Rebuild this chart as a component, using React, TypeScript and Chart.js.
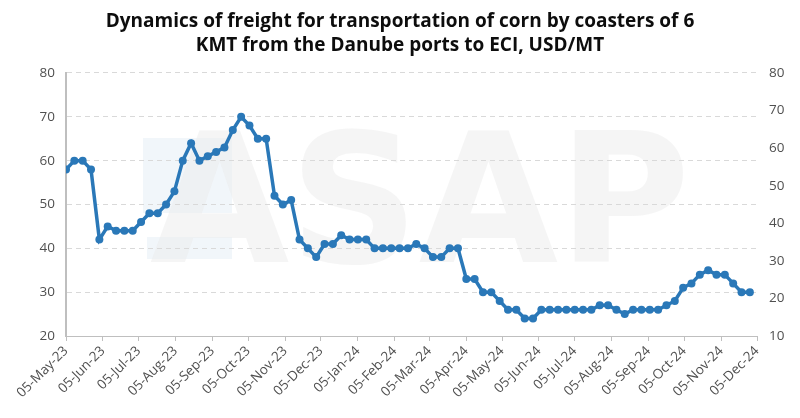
import React, { useEffect, useRef } from "react";
import { Chart, registerables } from "chart.js";

Chart.register(...registerables);

const TITLE = [
  "Dynamics of freight for transportation of corn by coasters of 6",
  "KMT from the Danube ports to ECI, USD/MT",
];

const weekDates = [
  "2023-05-05", "2023-05-12", "2023-05-19", "2023-05-26",
  "2023-06-02", "2023-06-09", "2023-06-16", "2023-06-23", "2023-06-30",
  "2023-07-07", "2023-07-14", "2023-07-21", "2023-07-28",
  "2023-08-04", "2023-08-11", "2023-08-18", "2023-08-25",
  "2023-09-01", "2023-09-08", "2023-09-15", "2023-09-22", "2023-09-29",
  "2023-10-06", "2023-10-13", "2023-10-20", "2023-10-27",
  "2023-11-03", "2023-11-10", "2023-11-17", "2023-11-24",
  "2023-12-01", "2023-12-08", "2023-12-15", "2023-12-22", "2023-12-29",
  "2024-01-05", "2024-01-12", "2024-01-19", "2024-01-26",
  "2024-02-02", "2024-02-09", "2024-02-16", "2024-02-23",
  "2024-03-01", "2024-03-08", "2024-03-15", "2024-03-22", "2024-03-29",
  "2024-04-05", "2024-04-12", "2024-04-19", "2024-04-26",
  "2024-05-03", "2024-05-10", "2024-05-17", "2024-05-24", "2024-05-31",
  "2024-06-07", "2024-06-14", "2024-06-21", "2024-06-28",
  "2024-07-05", "2024-07-12", "2024-07-19", "2024-07-26",
  "2024-08-02", "2024-08-09", "2024-08-16", "2024-08-23", "2024-08-30",
  "2024-09-06", "2024-09-13", "2024-09-20", "2024-09-27",
  "2024-10-04", "2024-10-11", "2024-10-18", "2024-10-25",
  "2024-11-01", "2024-11-08", "2024-11-15", "2024-11-22", "2024-11-29",
];

const freight = [
  58, 60, 60, 58, 42, 45, 44, 44, 44, 46, 48, 48, 50, 53, 60, 64, 60, 61, 62, 63, 67, 70, 68, 65, 65,
  52, 50, 51, 42, 40, 38, 41, 41, 43, 42, 42, 42, 40, 40, 40, 40, 40, 41, 40, 38, 38, 40, 40,
  33, 33, 30, 30, 28, 26, 26, 24,
  24, 26, 26, 26, 26, 26, 26, 26, 27, 27, 26, 25, 26, 26, 26, 26, 27, 28, 31, 32, 34, 35, 34, 34, 32, 30, 30,
];

const tickDates = [
  "2023-05-05", "2023-06-05", "2023-07-05", "2023-08-05", "2023-09-05", "2023-10-05",
  "2023-11-05", "2023-12-05", "2024-01-05", "2024-02-05", "2024-03-05", "2024-04-05",
  "2024-05-05", "2024-06-05", "2024-07-05", "2024-08-05", "2024-09-05", "2024-10-05",
  "2024-11-05", "2024-12-05",
];

const tickLabels = [
  "05-May-23", "05-Jun-23", "05-Jul-23", "05-Aug-23", "05-Sep-23", "05-Oct-23",
  "05-Nov-23", "05-Dec-23", "05-Jan-24", "05-Feb-24", "05-Mar-24", "05-Apr-24",
  "05-May-24", "05-Jun-24", "05-Jul-24", "05-Aug-24", "05-Sep-24", "05-Oct-24",
  "05-Nov-24", "05-Dec-24",
];

const leftAxis = { min: 20, max: 80, step: 10 };
const rightAxis = { min: 10, max: 80, step: 10 };

const BASE = Date.UTC(2023, 4, 5);
function dayOf(s: string): number {
  const [y, m, d] = s.split("-").map(Number);
  return (Date.UTC(y, m - 1, d) - BASE) / 86400000;
}

const LINE_COLOR = "#2A78B8";
const TEXT_COLOR = "#505050";
const FONT = "'Open Sans', 'DejaVu Sans', sans-serif";

const watermark = {
  id: "watermark",
  beforeDraw(chart: any) {
    const { ctx, chartArea } = chart;
    if (!chartArea) return;
    ctx.save();
    ctx.fillStyle = "rgba(225,235,243,0.45)";
    ctx.fillRect(143, 138, 89, 75);
    ctx.fillRect(147, 237, 85, 22);
    ctx.font = "bold 180px 'DejaVu Sans', sans-serif";
    ctx.fillStyle = "rgba(236,236,236,0.5)";
    ctx.textBaseline = "alphabetic";
    ctx.textAlign = "center";
    ctx.fillText("ASAP", 420, 262);
    ctx.restore();
  },
};

export default function App() {
  const ref = useRef<HTMLCanvasElement | null>(null);

  useEffect(() => {
    if (!ref.current) return;
    const points = weekDates.map((d, i) => ({ x: dayOf(d), y: freight[i] }));
    const tickValues = tickDates.map(dayOf);
    const chart = new Chart(ref.current, {
      type: "line",
      data: {
        datasets: [
          {
            label: "Freight",
            data: points,
            borderColor: LINE_COLOR,
            backgroundColor: LINE_COLOR,
            borderWidth: 3.5,
            pointRadius: 4,
            pointBorderWidth: 0,
            pointBackgroundColor: LINE_COLOR,
            tension: 0,
            yAxisID: "y",
          },
        ],
      },
      plugins: [watermark],
      options: {
        responsive: false,
        animation: false,
        layout: { padding: { left: 0, right: 0, top: 0, bottom: 0 } },
        plugins: {
          legend: { display: false },
          tooltip: { enabled: false },
          title: {
            display: true,
            text: TITLE,
            color: "#0d0d0d",
            font: { family: FONT, size: 19, weight: "bold", lineHeight: 1.263 },
            padding: { top: 10, bottom: 15 },
          },
        },
        scales: {
          x: {
            type: "linear",
            min: tickValues[0],
            max: tickValues[tickValues.length - 1],
            afterBuildTicks: (scale: any) => {
              scale.ticks = tickValues.map((v) => ({ value: v }));
            },
            afterFit: (scale: any) => {
              scale.height = 82;
            },
            ticks: {
              autoSkip: false,
              maxRotation: 45,
              minRotation: 45,
              color: TEXT_COLOR,
              font: { family: FONT, size: 13.5 },
              padding: 2,
              callback: (value: any) => {
                const idx = tickValues.indexOf(Number(value));
                return idx >= 0 ? tickLabels[idx] : "";
              },
            },
            grid: {
              display: true,
              drawOnChartArea: false,
              drawTicks: true,
              tickLength: 5,
              color: "#bfbfbf",
              lineWidth: 1,
            },
            border: { display: true, color: "#bfbfbf", width: 1 },
          },
          y: {
            type: "linear",
            position: "left",
            min: leftAxis.min,
            max: leftAxis.max,
            afterFit: (scale: any) => {
              scale.width = 66;
            },
            ticks: {
              stepSize: leftAxis.step,
              color: TEXT_COLOR,
              font: { family: FONT, size: 13.5 },
              padding: 11,
            },
            grid: { color: "#d9d9d9", lineWidth: 1, drawTicks: false },
            border: { display: true, color: "#bfbfbf", width: 2, dash: [5, 4] },
          },
          y2: {
            type: "linear",
            position: "right",
            min: rightAxis.min,
            max: rightAxis.max,
            afterFit: (scale: any) => {
              scale.width = 43;
            },
            ticks: {
              stepSize: rightAxis.step,
              color: TEXT_COLOR,
              font: { family: FONT, size: 13.5 },
              padding: 12,
            },
            grid: { display: false, drawTicks: false },
            border: { display: false },
          },
        },
      },
    });
    return () => chart.destroy();
  }, []);

  return (
    <div style={{ position: "absolute", left: 0, top: 0, width: 800, height: 418, background: "#fff" }}>
      <canvas ref={ref} width={800} height={418} style={{ display: "block" }} />
    </div>
  );
}
